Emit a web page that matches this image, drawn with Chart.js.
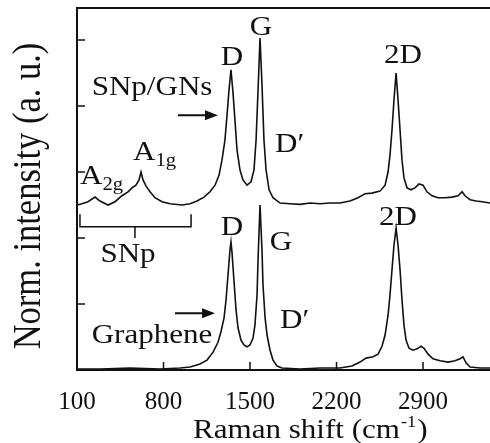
<!DOCTYPE html>
<html>
<head>
<meta charset="utf-8">
<script src="https://cdn.jsdelivr.net/npm/chart.js@4.4.0/dist/chart.umd.min.js"></script>
<style>
  html, body { margin: 0; padding: 0; background: #fff; overflow: hidden; }
  canvas { display: block; }
</style>
</head>
<body>
<canvas id="raman" width="490" height="443"></canvas>
<script>
// spectra: Raman shift (cm-1) and stacked normalized intensity
const snpShift = [100, 140, 189, 246, 286, 351, 408, 464, 513, 545, 577, 602, 618, 634, 658, 691, 731, 788, 853, 950,
  1015, 1071, 1128, 1176, 1217, 1249, 1273, 1297, 1314, 1330, 1346, 1362, 1378, 1395, 1419, 1443, 1476, 1508, 1532, 1549,
  1565, 1581, 1597, 1613, 1630, 1654, 1686, 1743, 1824, 1905, 1986, 2067, 2148, 2228, 2309, 2374, 2431, 2487, 2552, 2593,
  2617, 2633, 2649, 2665, 2682, 2698, 2714, 2730, 2746, 2771, 2803, 2835, 2868, 2900, 2932, 2973, 3022, 3078, 3135, 3184,
  3216, 3240, 3281, 3330, 3378, 3442];
const snpIntensity = [2.50, 2.52, 2.55, 2.62, 2.56, 2.50, 2.55, 2.64, 2.70, 2.76, 2.80, 2.88, 3.00, 2.88, 2.79, 2.70, 2.61, 2.55, 2.52, 2.50,
  2.52, 2.56, 2.62, 2.70, 2.80, 2.95, 3.18, 3.48, 3.86, 4.24, 4.55, 4.21, 3.79, 3.33, 3.03, 2.88, 2.80, 2.85, 3.03, 3.48,
  4.24, 5.03, 4.32, 3.48, 3.03, 2.73, 2.61, 2.53, 2.52, 2.51, 2.53, 2.52, 2.53, 2.53, 2.56, 2.61, 2.67, 2.68, 2.71, 2.80,
  3.00, 3.26, 3.64, 4.09, 4.50, 4.09, 3.64, 3.18, 2.91, 2.76, 2.73, 2.76, 2.82, 2.80, 2.70, 2.64, 2.61, 2.61, 2.62, 2.64,
  2.70, 2.64, 2.58, 2.56, 2.55, 2.53];

const grapheneShift = [100, 286, 529, 772, 934, 1015, 1095, 1152, 1201, 1241, 1265, 1290, 1306, 1322, 1338, 1346, 1354, 1370, 1387, 1403,
  1427, 1451, 1476, 1500, 1524, 1540, 1557, 1565, 1581, 1597, 1605, 1622, 1638, 1662, 1686, 1719, 1759, 1905, 2067, 2228,
  2325, 2390, 2439, 2496, 2536, 2568, 2593, 2617, 2633, 2649, 2665, 2682, 2698, 2714, 2730, 2746, 2763, 2787, 2819, 2852,
  2884, 2908, 2941, 2981, 3038, 3103, 3159, 3200, 3224, 3248, 3281, 3362, 3442];
const grapheneIntensity = [0.015, 0.015, 0.03, 0.015, 0.03, 0.045, 0.09, 0.15, 0.27, 0.42, 0.58, 0.79, 1.06, 1.44, 1.82, 1.94, 1.79, 1.36, 0.91, 0.64,
  0.45, 0.38, 0.35, 0.38, 0.48, 0.68, 1.14, 1.67, 2.50, 1.82, 1.29, 0.79, 0.53, 0.30, 0.15, 0.06, 0.03, 0.015, 0.03, 0.03,
  0.06, 0.12, 0.18, 0.20, 0.24, 0.36, 0.53, 0.83, 1.14, 1.52, 1.89, 2.15, 1.89, 1.52, 1.06, 0.68, 0.45, 0.33, 0.30, 0.32,
  0.36, 0.33, 0.24, 0.17, 0.14, 0.12, 0.14, 0.17, 0.20, 0.11, 0.045, 0.03, 0.03];

const xTicks = [100, 800, 1500, 2200, 2900];
const yTicks = [1, 2, 3, 4, 5];

const SERIF = '"Liberation Serif", "DejaVu Serif", serif';
const STRETCH = 1.15; // the figure's lettering is a bit wide

function txt(ctx, text, x, y, size, align) {
  ctx.save();
  ctx.font = size + 'px ' + SERIF;
  ctx.translate(x, y);
  ctx.scale(STRETCH, 1);
  ctx.textAlign = align || 'center';
  ctx.textBaseline = 'alphabetic';
  ctx.fillText(text, 0, 0);
  const w = ctx.measureText(text).width * STRETCH;
  ctx.restore();
  return w;
}

function arrow(ctx, x1, x2, y) {
  ctx.beginPath();
  ctx.moveTo(x1, y);
  ctx.lineTo(x2 - 8, y);
  ctx.lineWidth = 2;
  ctx.stroke();
  ctx.beginPath();
  ctx.moveTo(x2, y);
  ctx.lineTo(x2 - 13, y - 5);
  ctx.lineTo(x2 - 13, y + 5);
  ctx.closePath();
  ctx.fill();
}

// peak labels etc., placed in data coordinates
const decorations = {
  id: 'decorations',
  afterDraw(chart) {
    const ctx = chart.ctx;
    const xs = chart.scales.x, ys = chart.scales.y;
    const area = chart.chartArea;
    const X = v => xs.getPixelForValue(v);
    const Y = v => ys.getPixelForValue(v);
    ctx.save();
    ctx.fillStyle = '#111';
    ctx.strokeStyle = '#111';

    // top frame line
    ctx.lineWidth = 2;
    ctx.beginPath();
    ctx.moveTo(area.left, area.top);
    ctx.lineTo(area.right, area.top);
    ctx.stroke();

    // inward ticks
    ctx.lineWidth = 1.5;
    xTicks.forEach(v => {
      ctx.beginPath();
      ctx.moveTo(X(v), area.bottom);
      ctx.lineTo(X(v), area.bottom - 8);
      ctx.stroke();
    });
    yTicks.forEach(v => {
      ctx.beginPath();
      ctx.moveTo(area.left, Y(v));
      ctx.lineTo(area.left + 8, Y(v));
      ctx.stroke();
    });

    // SNp/GNs labels
    txt(ctx, 'D', X(1354), Y(4.62), 27);
    txt(ctx, 'G', X(1589), Y(5.08), 27);
    txt(ctx, 'D\u2032', X(1702), Y(3.30), 27, 'left');
    txt(ctx, '2D', X(2738), Y(4.65), 27);
    txt(ctx, 'SNp/GNs', X(707), Y(4.17), 27);
    arrow(ctx, X(917), X(1241), Y(3.86));
    let w = txt(ctx, 'A', X(553), Y(3.18), 27, 'left');
    txt(ctx, '1g', X(553) + w, Y(3.18) + 6, 18, 'left');
    w = txt(ctx, 'A', X(124), Y(2.82), 27, 'left');
    txt(ctx, '2g', X(124) + w, Y(2.82) + 6, 18, 'left');

    // SNp bracket
    ctx.lineWidth = 1.5;
    ctx.beginPath();
    ctx.moveTo(X(124), Y(2.36));
    ctx.lineTo(X(124), Y(2.17));
    ctx.lineTo(X(1023), Y(2.17));
    ctx.lineTo(X(1023), Y(2.36));
    ctx.moveTo(X(569), Y(2.17));
    ctx.lineTo(X(569), Y(2.0));
    ctx.stroke();
    txt(ctx, 'SNp', X(513), Y(1.64), 27);

    // Graphene labels
    txt(ctx, 'D', X(1354), Y(2.05), 27);
    txt(ctx, 'G', X(1751), Y(1.82), 27);
    txt(ctx, 'D\u2032', X(1743), Y(0.64), 27, 'left');
    txt(ctx, '2D', X(2698), Y(2.20), 27);
    txt(ctx, 'Graphene', X(707), Y(0.41), 27);
    arrow(ctx, X(893), X(1217), Y(0.86));

    // axis titles
    const tx = 193, ty = 438;
    w = txt(ctx, 'Raman shift (cm', tx, ty, 27, 'left');
    const w2 = txt(ctx, '-1', tx + w + 1, ty - 11, 16, 'left');
    txt(ctx, ')', tx + w + w2 + 2, ty, 27, 'left');

    ctx.translate(40, 196);
    ctx.scale(STRETCH, 1);
    ctx.rotate(-Math.PI / 2);
    ctx.font = '34.5px ' + SERIF;
    ctx.textAlign = 'center';
    ctx.fillText('Norm. intensity (a. u.)', 0, 0);
    ctx.restore();
  }
};

const lineStyle = { borderColor: '#111', borderWidth: 1.6, pointRadius: 0, tension: 0, fill: false };

new Chart(document.getElementById('raman'), {
  type: 'line',
  data: {
    datasets: [
      Object.assign({ label: 'SNp/GNs', data: snpShift.map((x, i) => ({ x: x, y: snpIntensity[i] })) }, lineStyle),
      Object.assign({ label: 'Graphene', data: grapheneShift.map((x, i) => ({ x: x, y: grapheneIntensity[i] })) }, lineStyle)
    ]
  },
  options: {
    responsive: false,
    animation: false,
    devicePixelRatio: 1,
    layout: { padding: { top: 8, right: 0, left: 0, bottom: 0 } },
    plugins: { legend: { display: false }, tooltip: { enabled: false } },
    scales: {
      x: {
        type: 'linear',
        min: 100,
        max: 3442,
        afterBuildTicks: s => { s.ticks = xTicks.map(v => ({ value: v })); },
        afterFit: s => { s.height = 73; },
        grid: { display: false, drawTicks: false },
        border: { display: true, color: '#111', width: 2 },
        ticks: {
          color: '#111',
          font: { family: SERIF, size: 25 },
          padding: 17,
          maxRotation: 0,
          callback: v => String(v)
        }
      },
      y: {
        min: 0,
        max: 5.485,
        afterBuildTicks: s => { s.ticks = yTicks.map(v => ({ value: v })); },
        afterFit: s => { s.width = 77; },
        grid: { display: false, drawTicks: false },
        border: { display: true, color: '#111', width: 2 },
        ticks: { display: false }
      }
    }
  },
  plugins: [decorations]
});
</script>
</body>
</html>
